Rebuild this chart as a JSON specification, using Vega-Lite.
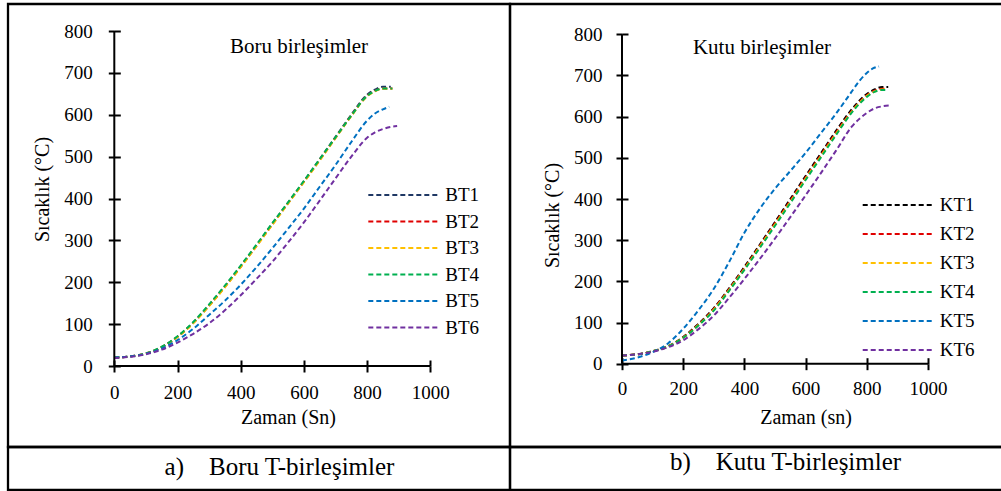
{
  "$schema": "https://vega.github.io/schema/vega-lite/v6.json",
  "padding": {"left": 6, "top": 2, "right": 0, "bottom": 0},
  "background": "white",
  "bounds": "flush",
  "spacing": 0,
  "columns": 2,
  "resolve": {"scale": {"color": "independent"}, "legend": {"color": "independent"}},
  "config": {
    "view": {"stroke": "black", "strokeWidth": 2.3},
    "font": "Liberation Serif",
    "axis": {"grid": false, "domain": false, "tickColor": "black", "tickWidth": 2, "tickSize": 6, "labelColor": "black", "labelFontSize": 19, "labelFont": "Liberation Serif", "labelOverlap": false, "labelFlush": false, "titleColor": "black", "titleFont": "Liberation Serif", "titleFontSize": 20, "titleFontWeight": "normal", "format": "d"},
    "legend": {"labelFont": "Liberation Serif", "labelFontSize": 19, "labelColor": "black", "symbolType": "M-3,0H3", "symbolSize": 544, "symbolStrokeWidth": 2, "symbolDash": [5, 3], "labelOffset": 29, "padding": 0, "title": null},
    "title": {"font": "Liberation Serif", "fontSize": 21, "fontWeight": "normal", "color": "black"}
  },
  "datasets": {
    "boru": [
      {"t":0,"T":20,"s":"BT1"},{"t":50,"T":23,"s":"BT1"},{"t":100,"T":30,"s":"BT1"},{"t":150,"T":45,"s":"BT1"},{"t":200,"T":70,"s":"BT1"},{"t":250,"T":104,"s":"BT1"},{"t":300,"T":145,"s":"BT1"},{"t":350,"T":190,"s":"BT1"},{"t":400,"T":238,"s":"BT1"},{"t":450,"T":288,"s":"BT1"},{"t":500,"T":340,"s":"BT1"},{"t":550,"T":390,"s":"BT1"},{"t":600,"T":441,"s":"BT1"},{"t":650,"T":494,"s":"BT1"},{"t":700,"T":547,"s":"BT1"},{"t":750,"T":600,"s":"BT1"},{"t":800,"T":648,"s":"BT1"},{"t":825,"T":660,"s":"BT1"},{"t":850,"T":667,"s":"BT1"},{"t":875,"T":667,"s":"BT1"},
      {"t":0,"T":20,"s":"BT2"},{"t":50,"T":23,"s":"BT2"},{"t":100,"T":30,"s":"BT2"},{"t":150,"T":45,"s":"BT2"},{"t":200,"T":70,"s":"BT2"},{"t":250,"T":103,"s":"BT2"},{"t":300,"T":144,"s":"BT2"},{"t":350,"T":189,"s":"BT2"},{"t":400,"T":237,"s":"BT2"},{"t":450,"T":287,"s":"BT2"},{"t":500,"T":338,"s":"BT2"},{"t":550,"T":389,"s":"BT2"},{"t":600,"T":440,"s":"BT2"},{"t":650,"T":492,"s":"BT2"},{"t":700,"T":545,"s":"BT2"},{"t":750,"T":598,"s":"BT2"},{"t":800,"T":645,"s":"BT2"},{"t":825,"T":657,"s":"BT2"},{"t":850,"T":663,"s":"BT2"},{"t":880,"T":663,"s":"BT2"},
      {"t":0,"T":20,"s":"BT3"},{"t":50,"T":23,"s":"BT3"},{"t":100,"T":30,"s":"BT3"},{"t":150,"T":45,"s":"BT3"},{"t":200,"T":69,"s":"BT3"},{"t":250,"T":102,"s":"BT3"},{"t":300,"T":143,"s":"BT3"},{"t":350,"T":188,"s":"BT3"},{"t":400,"T":236,"s":"BT3"},{"t":450,"T":286,"s":"BT3"},{"t":500,"T":337,"s":"BT3"},{"t":550,"T":388,"s":"BT3"},{"t":600,"T":439,"s":"BT3"},{"t":650,"T":491,"s":"BT3"},{"t":700,"T":544,"s":"BT3"},{"t":750,"T":597,"s":"BT3"},{"t":800,"T":644,"s":"BT3"},{"t":825,"T":656,"s":"BT3"},{"t":850,"T":662,"s":"BT3"},{"t":880,"T":662,"s":"BT3"},
      {"t":0,"T":20,"s":"BT4"},{"t":50,"T":23,"s":"BT4"},{"t":100,"T":30,"s":"BT4"},{"t":150,"T":46,"s":"BT4"},{"t":200,"T":71,"s":"BT4"},{"t":250,"T":105,"s":"BT4"},{"t":300,"T":147,"s":"BT4"},{"t":350,"T":192,"s":"BT4"},{"t":400,"T":240,"s":"BT4"},{"t":450,"T":290,"s":"BT4"},{"t":500,"T":341,"s":"BT4"},{"t":550,"T":391,"s":"BT4"},{"t":600,"T":442,"s":"BT4"},{"t":650,"T":494,"s":"BT4"},{"t":700,"T":546,"s":"BT4"},{"t":750,"T":598,"s":"BT4"},{"t":800,"T":645,"s":"BT4"},{"t":825,"T":657,"s":"BT4"},{"t":850,"T":663,"s":"BT4"},{"t":880,"T":663,"s":"BT4"},
      {"t":0,"T":20,"s":"BT5"},{"t":50,"T":23,"s":"BT5"},{"t":100,"T":29,"s":"BT5"},{"t":150,"T":42,"s":"BT5"},{"t":200,"T":62,"s":"BT5"},{"t":250,"T":89,"s":"BT5"},{"t":300,"T":122,"s":"BT5"},{"t":350,"T":156,"s":"BT5"},{"t":400,"T":194,"s":"BT5"},{"t":450,"T":236,"s":"BT5"},{"t":500,"T":281,"s":"BT5"},{"t":550,"T":328,"s":"BT5"},{"t":600,"T":376,"s":"BT5"},{"t":650,"T":428,"s":"BT5"},{"t":700,"T":480,"s":"BT5"},{"t":750,"T":535,"s":"BT5"},{"t":800,"T":586,"s":"BT5"},{"t":825,"T":603,"s":"BT5"},{"t":850,"T":613,"s":"BT5"},{"t":870,"T":619,"s":"BT5"},
      {"t":0,"T":19,"s":"BT6"},{"t":50,"T":22,"s":"BT6"},{"t":100,"T":28,"s":"BT6"},{"t":150,"T":39,"s":"BT6"},{"t":200,"T":56,"s":"BT6"},{"t":250,"T":77,"s":"BT6"},{"t":300,"T":102,"s":"BT6"},{"t":350,"T":133,"s":"BT6"},{"t":400,"T":169,"s":"BT6"},{"t":450,"T":208,"s":"BT6"},{"t":500,"T":249,"s":"BT6"},{"t":550,"T":295,"s":"BT6"},{"t":600,"T":343,"s":"BT6"},{"t":650,"T":395,"s":"BT6"},{"t":700,"T":448,"s":"BT6"},{"t":750,"T":500,"s":"BT6"},{"t":800,"T":545,"s":"BT6"},{"t":825,"T":558,"s":"BT6"},{"t":850,"T":566,"s":"BT6"},{"t":875,"T":571,"s":"BT6"},{"t":895,"T":573,"s":"BT6"}
    ],
    "kutu": [
      {"t":0,"T":20,"s":"KT1"},{"t":50,"T":23,"s":"KT1"},{"t":100,"T":30,"s":"KT1"},{"t":150,"T":42,"s":"KT1"},{"t":200,"T":65,"s":"KT1"},{"t":250,"T":97,"s":"KT1"},{"t":300,"T":135,"s":"KT1"},{"t":350,"T":183,"s":"KT1"},{"t":400,"T":235,"s":"KT1"},{"t":450,"T":289,"s":"KT1"},{"t":500,"T":344,"s":"KT1"},{"t":550,"T":400,"s":"KT1"},{"t":600,"T":456,"s":"KT1"},{"t":650,"T":511,"s":"KT1"},{"t":700,"T":566,"s":"KT1"},{"t":750,"T":617,"s":"KT1"},{"t":800,"T":655,"s":"KT1"},{"t":825,"T":666,"s":"KT1"},{"t":850,"T":672,"s":"KT1"},{"t":870,"T":672,"s":"KT1"},
      {"t":0,"T":20,"s":"KT2"},{"t":50,"T":23,"s":"KT2"},{"t":100,"T":30,"s":"KT2"},{"t":150,"T":42,"s":"KT2"},{"t":200,"T":64,"s":"KT2"},{"t":250,"T":95,"s":"KT2"},{"t":300,"T":133,"s":"KT2"},{"t":350,"T":181,"s":"KT2"},{"t":400,"T":232,"s":"KT2"},{"t":450,"T":286,"s":"KT2"},{"t":500,"T":341,"s":"KT2"},{"t":550,"T":396,"s":"KT2"},{"t":600,"T":452,"s":"KT2"},{"t":650,"T":507,"s":"KT2"},{"t":700,"T":562,"s":"KT2"},{"t":750,"T":613,"s":"KT2"},{"t":800,"T":652,"s":"KT2"},{"t":825,"T":663,"s":"KT2"},{"t":850,"T":668,"s":"KT2"},{"t":865,"T":668,"s":"KT2"},
      {"t":0,"T":20,"s":"KT3"},{"t":50,"T":23,"s":"KT3"},{"t":100,"T":30,"s":"KT3"},{"t":150,"T":42,"s":"KT3"},{"t":200,"T":63,"s":"KT3"},{"t":250,"T":94,"s":"KT3"},{"t":300,"T":131,"s":"KT3"},{"t":350,"T":179,"s":"KT3"},{"t":400,"T":230,"s":"KT3"},{"t":450,"T":284,"s":"KT3"},{"t":500,"T":338,"s":"KT3"},{"t":550,"T":393,"s":"KT3"},{"t":600,"T":449,"s":"KT3"},{"t":650,"T":504,"s":"KT3"},{"t":700,"T":559,"s":"KT3"},{"t":750,"T":611,"s":"KT3"},{"t":800,"T":650,"s":"KT3"},{"t":825,"T":661,"s":"KT3"},{"t":850,"T":666,"s":"KT3"},{"t":865,"T":666,"s":"KT3"},
      {"t":0,"T":20,"s":"KT4"},{"t":50,"T":23,"s":"KT4"},{"t":100,"T":30,"s":"KT4"},{"t":150,"T":42,"s":"KT4"},{"t":200,"T":63,"s":"KT4"},{"t":250,"T":93,"s":"KT4"},{"t":300,"T":129,"s":"KT4"},{"t":350,"T":177,"s":"KT4"},{"t":400,"T":228,"s":"KT4"},{"t":450,"T":281,"s":"KT4"},{"t":500,"T":335,"s":"KT4"},{"t":550,"T":390,"s":"KT4"},{"t":600,"T":446,"s":"KT4"},{"t":650,"T":501,"s":"KT4"},{"t":700,"T":556,"s":"KT4"},{"t":750,"T":609,"s":"KT4"},{"t":800,"T":648,"s":"KT4"},{"t":825,"T":660,"s":"KT4"},{"t":850,"T":665,"s":"KT4"},{"t":865,"T":665,"s":"KT4"},
      {"t":0,"T":8,"s":"KT5"},{"t":50,"T":15,"s":"KT5"},{"t":100,"T":28,"s":"KT5"},{"t":150,"T":49,"s":"KT5"},{"t":200,"T":85,"s":"KT5"},{"t":250,"T":130,"s":"KT5"},{"t":300,"T":182,"s":"KT5"},{"t":350,"T":247,"s":"KT5"},{"t":400,"T":318,"s":"KT5"},{"t":450,"T":376,"s":"KT5"},{"t":500,"T":425,"s":"KT5"},{"t":550,"T":468,"s":"KT5"},{"t":600,"T":512,"s":"KT5"},{"t":650,"T":560,"s":"KT5"},{"t":700,"T":608,"s":"KT5"},{"t":750,"T":660,"s":"KT5"},{"t":775,"T":686,"s":"KT5"},{"t":800,"T":706,"s":"KT5"},{"t":820,"T":717,"s":"KT5"},{"t":840,"T":722,"s":"KT5"},
      {"t":0,"T":20,"s":"KT6"},{"t":50,"T":23,"s":"KT6"},{"t":100,"T":29,"s":"KT6"},{"t":150,"T":40,"s":"KT6"},{"t":200,"T":57,"s":"KT6"},{"t":250,"T":84,"s":"KT6"},{"t":300,"T":117,"s":"KT6"},{"t":350,"T":160,"s":"KT6"},{"t":400,"T":206,"s":"KT6"},{"t":450,"T":254,"s":"KT6"},{"t":500,"T":304,"s":"KT6"},{"t":550,"T":356,"s":"KT6"},{"t":600,"T":409,"s":"KT6"},{"t":650,"T":463,"s":"KT6"},{"t":700,"T":518,"s":"KT6"},{"t":750,"T":575,"s":"KT6"},{"t":800,"T":609,"s":"KT6"},{"t":825,"T":620,"s":"KT6"},{"t":850,"T":625,"s":"KT6"},{"t":875,"T":627,"s":"KT6"}
    ],
    "one": [{}],
    "capA": [{"c": "a)\u00a0\u00a0\u00a0\u00a0Boru T-birleşimler"}],
    "capB": [{"c": "b)\u00a0\u00a0\u00a0\u00a0Kutu T-birleşimler"}]
  },
  "concat": [
    {
      "width": 502, "height": 443,
      "title": {"text": "Boru birleşimler", "offset": -70, "dx": 40, "baseline": "alphabetic", "anchor": "middle", "frame": "group"},
      "resolve": {"axis": {"x": "independent", "y": "independent"}},
      "layer": [
        {
          "data": {"name": "boru"},
          "mark": {"type": "line", "strokeDash": [5, 3], "strokeWidth": 2, "interpolate": "monotone"},
          "encoding": {
            "x": {"field": "t", "type": "quantitative", "scale": {"domain": [-336.4, 1252.2], "nice": false, "zero": false},
                  "axis": {"orient": "bottom", "offset": -81, "values": [0, 200, 400, 600, 800, 1000], "labelPadding": 11, "title": "Zaman (Sn)", "titleX": 280, "titleY": 51, "titleBaseline": "middle", "titleAlign": "center"}},
            "y": {"field": "T", "type": "quantitative", "scale": {"domain": [-193.4, 864.5], "nice": false, "zero": false},
                  "axis": {"orient": "left", "offset": -106.3, "values": [0, 100, 200, 300, 400, 500, 600, 700, 800], "labelPadding": 16, "title": "Sıcaklık (°C)", "titleX": -72.3, "titleY": 185, "titleBaseline": "middle", "titleAlign": "center", "titleAngle": -90}},
            "color": {"field": "s", "type": "nominal",
                      "scale": {"domain": ["BT1", "BT2", "BT3", "BT4", "BT5", "BT6"], "range": ["#1F3864", "#E00000", "#FFC000", "#00B050", "#0070C0", "#7030A0"]},
                      "legend": {"orient": "none", "legendX": 382.3, "legendY": 178, "rowPadding": 3.5}}
          }
        },
        {
          "data": {"name": "one"},
          "mark": {"type": "rule", "color": "black", "strokeWidth": 2},
          "encoding": {
            "x": {"datum": 0, "axis": {"orient": "top", "offset": -362, "values": [0, 200, 400, 600, 800, 1000], "labels": false, "title": null}},
            "x2": {"datum": 1000},
            "y": {"datum": 0, "axis": {"orient": "right", "offset": -395.7, "values": [0, 100, 200, 300, 400, 500, 600, 700, 800], "labels": false, "title": null}}
          }
        },
        {
          "data": {"name": "one"},
          "mark": {"type": "rule", "color": "black", "strokeWidth": 2},
          "encoding": {
            "x": {"datum": 0, "axis": null},
            "y": {"datum": 0, "axis": null},
            "y2": {"datum": 800}
          }
        }
      ]
    },
    {
      "width": 497, "height": 443,
      "title": {"text": "Kutu birleşimler", "offset": -71, "dx": 3.5, "baseline": "alphabetic", "anchor": "middle", "frame": "group"},
      "resolve": {"axis": {"x": "independent", "y": "independent"}},
      "layer": [
        {
          "data": {"name": "kutu"},
          "mark": {"type": "line", "strokeDash": [5, 3], "strokeWidth": 2, "interpolate": "monotone"},
          "encoding": {
            "x": {"field": "t", "type": "quantitative", "scale": {"domain": [-366, 1258.2], "nice": false, "zero": false},
                  "axis": {"orient": "bottom", "offset": -83.3, "values": [0, 200, 400, 600, 800, 1000], "labelPadding": 10, "title": "Zaman (sn)", "titleX": 295.5, "titleY": 54, "titleBaseline": "middle", "titleAlign": "center"}},
            "y": {"field": "T", "type": "quantitative", "scale": {"domain": [-202.3, 873.6], "nice": false, "zero": false},
                  "axis": {"orient": "left", "offset": -112, "values": [0, 100, 200, 300, 400, 500, 600, 700, 800], "labelPadding": 14, "title": "Sıcaklık (°C)", "titleX": -70, "titleY": 211, "titleBaseline": "middle", "titleAlign": "center", "titleAngle": -90}},
            "color": {"field": "s", "type": "nominal",
                      "scale": {"domain": ["KT1", "KT2", "KT3", "KT4", "KT5", "KT6"], "range": ["#000000", "#E00000", "#FFC000", "#00B050", "#0070C0", "#7030A0"]},
                      "legend": {"orient": "none", "legendX": 374.7, "legendY": 188, "rowPadding": 6}}
          }
        },
        {
          "data": {"name": "one"},
          "mark": {"type": "rule", "color": "black", "strokeWidth": 2},
          "encoding": {
            "x": {"datum": 0, "axis": {"orient": "top", "offset": -359.7, "values": [0, 200, 400, 600, 800, 1000], "labels": false, "title": null}},
            "x2": {"datum": 1000},
            "y": {"datum": 0, "axis": {"orient": "right", "offset": -385, "values": [0, 100, 200, 300, 400, 500, 600, 700, 800], "labels": false, "title": null}}
          }
        },
        {
          "data": {"name": "one"},
          "mark": {"type": "rule", "color": "black", "strokeWidth": 2},
          "encoding": {
            "x": {"datum": 0, "axis": null},
            "y": {"datum": 0, "axis": null},
            "y2": {"datum": 800}
          }
        }
      ]
    },
    {
      "width": 502, "height": 43,
      "view": {"stroke": "black", "strokeWidth": 2.3},
      "data": {"name": "capA"},
      "mark": {"type": "text", "fontSize": 25, "font": "Liberation Serif", "color": "black", "baseline": "alphabetic", "align": "center", "dx": 20.5, "dy": 6.5},
      "encoding": {"text": {"field": "c", "type": "nominal"}}
    },
    {
      "width": 497, "height": 43,
      "view": {"stroke": "black", "strokeWidth": 2.3},
      "data": {"name": "capB"},
      "mark": {"type": "text", "fontSize": 25, "font": "Liberation Serif", "color": "black", "baseline": "alphabetic", "align": "center", "dx": 27, "dy": 1.8},
      "encoding": {"text": {"field": "c", "type": "nominal"}}
    }
  ]
}
